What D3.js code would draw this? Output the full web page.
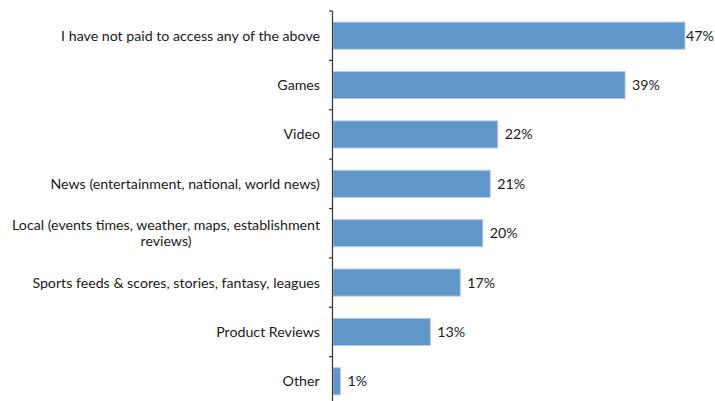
<!DOCTYPE html>
<html>
<head>
<meta charset="utf-8">
<script src="https://cdn.jsdelivr.net/npm/d3@7"></script>
<style>
  html, body { margin: 0; padding: 0; background: #fff; }
  svg { display: block; }
  text { font-family: Lato, "Open Sans", sans-serif; fill: #1a1a1a; }
</style>
</head>
<body>
<svg id="chart" width="715" height="401"></svg>
<script>
// Paid content categories (each label may span several lines)
const categories = [
  ["I have not paid to access any of the above"],
  ["Games"],
  ["Video"],
  ["News (entertainment, national, world news)"],
  ["Local (events times, weather, maps, establishment", "reviews)"],
  ["Sports feeds & scores, stories, fantasy, leagues"],
  ["Product Reviews"],
  ["Other"]
];
const values = [47, 39, 22, 21, 20, 17, 13, 1];
const valueLabels = ["47%", "39%", "22%", "21%", "20%", "17%", "13%", "1%"];

const width = 715, height = 401;
const margin = { left: 332, right: 30, top: 11, bottom: -5 };
const fontSize = 14.2;

const svg = d3.select("#chart");
const keys = categories.map((c, i) => i);

const y = d3.scaleBand()
  .domain(keys)
  .range([margin.top, height - margin.bottom])
  .paddingInner(0.43)
  .paddingOuter(0.215);

const x = d3.scaleLinear()
  .domain([0, 47])
  .range([margin.left + 1, 685]);

// Bars
svg.append("g")
  .selectAll("rect")
  .data(values)
  .join("rect")
  .attr("x", x(0))
  .attr("y", (d, i) => y(i) + 0.5)
  .attr("width", d => x(d) - x(0))
  .attr("height", y.bandwidth() - 1)
  .attr("fill", "#6196c8")
  .attr("stroke", "#b4cde8")
  .attr("stroke-width", 1);

// Category axis: ticks sit on the boundaries between bands
const step = y.step();
const boundaries = d3.range(keys.length + 1).map(i => y(0) - y.paddingOuter() * step + i * step);
const axis = svg.append("g");
axis.append("line")
  .attr("x1", margin.left + 0.5).attr("x2", margin.left + 0.5)
  .attr("y1", boundaries[0]).attr("y2", boundaries[boundaries.length - 1])
  .attr("stroke", "#333").attr("stroke-width", 1.2);
axis.selectAll("line.tick")
  .data(boundaries)
  .join("line")
  .attr("class", "tick")
  .attr("x1", margin.left - 3).attr("x2", margin.left + 0.5)
  .attr("y1", d => d).attr("y2", d => d)
  .attr("stroke", "#333").attr("stroke-width", 1.2);

// Category labels: block right-aligned, lines centred within the block
const lineH = 16.5;
const labelRight = margin.left - 12;
const labels = svg.append("g").attr("font-size", fontSize);
categories.forEach((lines, i) => {
  const cy = y(i) + y.bandwidth() / 2;
  const g = labels.append("g");
  const t = g.append("text").attr("text-anchor", "middle");
  lines.forEach((ln, j) => {
    t.append("tspan")
      .attr("x", 0)
      .attr("y", cy + (j - (lines.length - 1) / 2) * lineH)
      .attr("dy", "0.35em")
      .text(ln);
  });
  const w = t.node().getBBox().width;
  g.attr("transform", `translate(${labelRight - w / 2},0)`);
});

// Value labels
svg.append("g")
  .attr("font-size", fontSize)
  .selectAll("text")
  .data(values)
  .join("text")
  .attr("x", function(d, i) {
    return Math.min(x(d) + 7, width - 29);
  })
  .attr("y", (d, i) => y(i) + y.bandwidth() / 2)
  .attr("dy", "0.35em")
  .text((d, i) => valueLabels[i]);
</script>
</body>
</html>
